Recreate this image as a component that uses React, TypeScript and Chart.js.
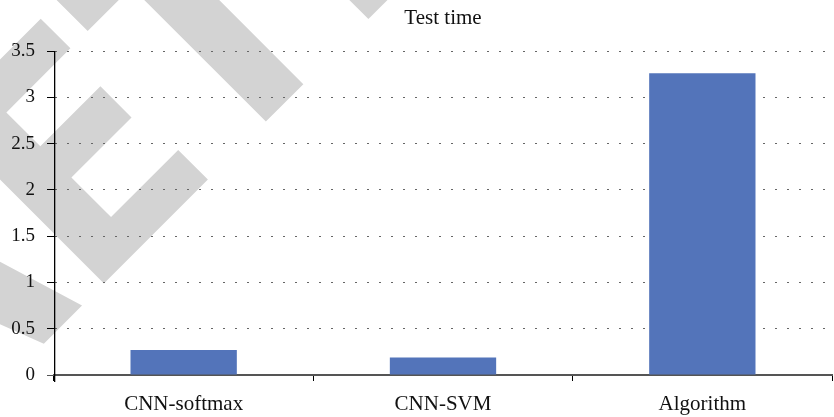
import React, { useEffect, useRef } from "react";
import { Chart, registerables } from "chart.js";

Chart.register(...registerables);

const categories = ["CNN-softmax", "CNN-SVM", "Algorithm"];
const testTime = [0.27, 0.19, 3.26];
const titleText = "Test time";
const yMin = 0;
const yMax = 3.5;
const yStep = 0.5;

const FONT = "'Liberation Serif', 'DejaVu Serif', serif";

// Background "RETRACTED" stamp, drawn as block letters in a frame rotated by -45 degrees.
// Each entry is a polygon in (u, v) stamp coordinates: u runs along the text baseline, v downward.
const stampPolygons: number[][][] = [
  // R (leg)
  [[-158, 274], [-185, 185], [-195, 150], [-260, 150], [-212, 274]],
  // E
  [[-127, 42], [15.6, 42], [15.6, 84], [-75, 84], [-75, 132], [10, 132], [10, 176], [-75, 176], [-75, 232], [20, 232], [20, 274], [-127, 274]],
  // T
  [[40, 0], [216, 0], [216, 84], [155, 84], [155, 274], [102, 274], [102, 84], [40, 84]],
  // R (stem)
  [[247, 42], [300, 42], [300, 274], [247, 274]],
];

const stampPlugin = {
  id: "stamp",
  beforeDraw(chart: any) {
    const ctx = chart.ctx;
    const s = Math.SQRT1_2;
    ctx.save();
    ctx.fillStyle = "#d3d3d3";
    for (const poly of stampPolygons) {
      ctx.beginPath();
      poly.forEach(([u, v], i) => {
        const x = (u + v) * s;
        const y = (v - u) * s;
        if (i === 0) ctx.moveTo(x, y);
        else ctx.lineTo(x, y);
      });
      ctx.closePath();
      ctx.fill();
    }
    ctx.restore();
  },
};

// Solid vertical y-axis line, from the top tick down past the x-axis.
const yAxisLinePlugin = {
  id: "yAxisLine",
  afterDraw(chart: any) {
    const ctx = chart.ctx;
    const area = chart.chartArea;
    const ys = chart.scales.y;
    const top = ys.getPixelForValue(yMax);
    const bottom = ys.getPixelForValue(yMin) + 7;
    const x = Math.round(area.left);
    ctx.save();
    ctx.fillStyle = "#000";
    ctx.fillRect(x, Math.round(top), 1.3, Math.round(bottom - top));
    ctx.restore();
  },
};

export default function App() {
  const ref = useRef<HTMLCanvasElement | null>(null);

  useEffect(() => {
    document.body.style.margin = "0";
    const canvas = ref.current;
    if (!canvas) return;
    const chart = new Chart(canvas, {
      type: "bar",
      data: {
        labels: categories,
        datasets: [
          {
            label: titleText,
            data: testTime,
            backgroundColor: "#5374BA",
            borderWidth: 0,
            barPercentage: 0.41,
            categoryPercentage: 1,
          },
        ],
      },
      options: {
        responsive: false,
        animation: false,
        devicePixelRatio: 1,
        layout: { padding: { left: 0, right: 2, top: 0, bottom: 0 } },
        plugins: {
          legend: { display: false },
          tooltip: { enabled: false },
          title: {
            display: true,
            fullSize: false,
            text: titleText,
            color: "#111",
            font: { family: FONT, size: 21, weight: "normal", lineHeight: 1.2 },
            padding: { top: 6, bottom: 19.8 },
          },
        },
        scales: {
          x: {
            offset: true,
            grid: {
              display: true,
              offset: true,
              drawOnChartArea: false,
              drawTicks: true,
              tickLength: 6,
              tickColor: "#000",
              tickWidth: 1,
            },
            border: { display: true, color: "#555", width: 2 },
            ticks: {
              color: "#111",
              padding: 11,
              font: { family: FONT, size: 21 },
              maxRotation: 0,
            },
            afterFit: (s: any) => {
              s.height = 42;
            },
          },
          y: {
            min: yMin,
            max: yMax,
            grid: {
              display: true,
              color: (ctx: any) => (ctx.tick && ctx.tick.value === 0 ? "rgba(0,0,0,0)" : "#666"),
              lineWidth: 1,
              drawTicks: true,
              tickLength: 7,
              tickColor: (ctx: any) => (ctx.tick && ctx.tick.value === 0 ? "#555" : "#000"),
              tickBorderDash: [],
              tickWidth: 1,
            },
            border: {
              display: true,
              color: "#000",
              width: 1,
              dash: (ctx: any) => (ctx.tick ? [2, 10] : []),
            },
            ticks: {
              stepSize: yStep,
              color: "#111",
              padding: 12,
              font: { family: FONT, size: 19 },
              callback: (v: any) => String(v),
            },
            afterFit: (s: any) => {
              s.width = 54;
            },
          },
        },
      },
      plugins: [stampPlugin, yAxisLinePlugin],
    });
    return () => chart.destroy();
  }, []);

  return (
    <div style={{ position: "fixed", left: 0, top: 0, width: 834, height: 417, background: "#fff" }}>
      <canvas ref={ref} width={834} height={417} style={{ width: 834, height: 417 }} />
    </div>
  );
}
